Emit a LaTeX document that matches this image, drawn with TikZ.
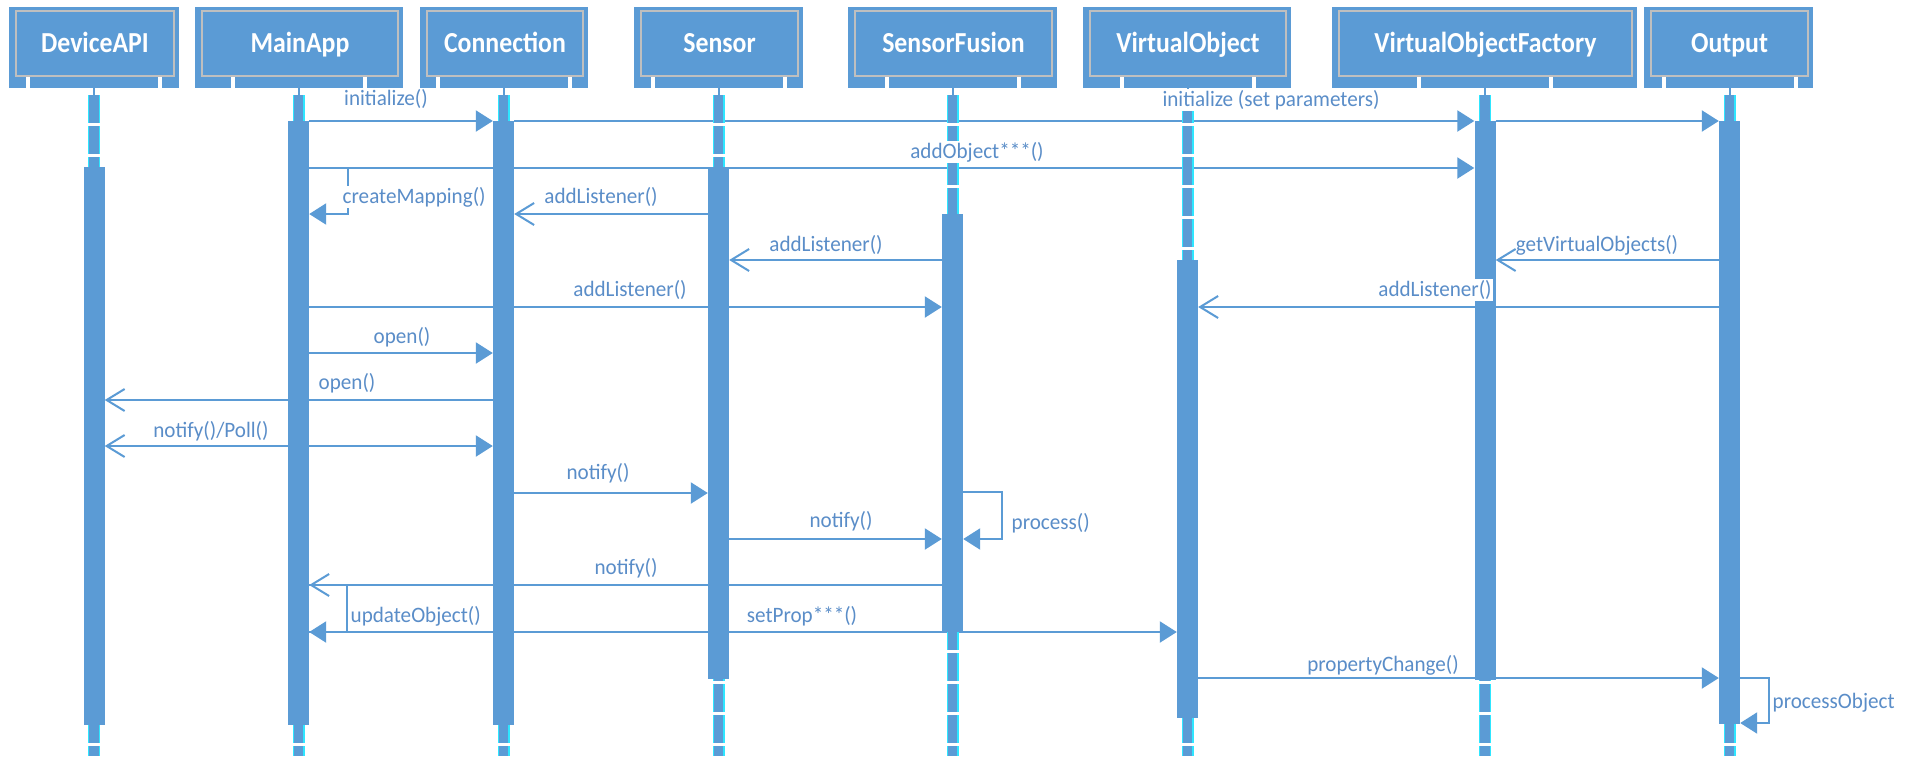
\documentclass[tikz,border=0pt]{standalone}
\usepackage{fontspec}
\setmainfont{Carlito}
\newfontfamily\headfont[FakeStretch=0.89]{Carlito}
\newfontfamily\msgfont[FakeStretch=0.96]{Carlito}
\usetikzlibrary{arrows.meta}
\definecolor{umlblue}{HTML}{5B9BD5}
\definecolor{umltext}{HTML}{5A8DC8}
\definecolor{umledge}{HTML}{BFBFBF}
\definecolor{lifeedge}{HTML}{2EE6FF}
\pgfdeclarelayer{bg}
\pgfdeclarelayer{lines}
\pgfdeclarelayer{lifelines}
\pgfdeclarelayer{front}
\pgfsetlayers{bg,lines,lifelines,main,front}

% header box with its shadow strip and dashed lifeline
% #1 name, #2 left, #3 right, #4 lifeline x, #5 title
\newcommand\umlhead[5]{%
  \fill[umlblue] ({#2-6},7) rectangle ({#3+6},88);
  \fill[white] ({#4-68},76) rectangle ({#4-64},89);
  \fill[white] ({#4+64},76) rectangle ({#4+68},89);
  \node[headbox, minimum width={#3pt-#2pt}, anchor=north west] (#1) at (#2,10) {#5};
  \coordinate (#1-top) at (#4,88);
  \coordinate (#1-end) at (#4,756);
  \begin{pgfonlayer}{lifelines}
    \draw[stub] (#1-top) -- ++(0,8);
    \draw[lifeout] ([yshift=-7pt]#1-top) -- (#1-end);
    \draw[lifein] ([yshift=-7pt]#1-top) -- (#1-end);
  \end{pgfonlayer}
}

\begin{document}
\begin{tikzpicture}[x=1pt, y=-1pt,
  headbox/.style={draw=umledge, fill=umlblue, line width=2pt, minimum height=65pt,
    inner sep=0pt, text=white, font=\headfont\bfseries\fontsize{29}{29}\selectfont,
    text height=18.5pt, text depth=0pt},
  stub/.style={draw=umlblue, line width=2pt},
  lifeout/.style={draw=lifeedge, line width=12pt, dash pattern=on 28pt off 3pt},
  lifein/.style={draw=umlblue, line width=9.5pt, dash pattern=on 28pt off 3pt},
  bar/.style={fill=umlblue, inner sep=0pt, minimum width=21pt, anchor=north},
  msg/.style={draw=umlblue, line width=2.2pt},
  sync/.style={msg, -{Triangle[length=17pt, width=21pt]}},
  reply/.style={msg, -{Straight Barb[length=18pt, width=22pt, line width=2pt]}},
  lbl/.style={text=umltext, font=\msgfont\fontsize{22}{22}\selectfont, inner sep=1.5pt},
  lblw/.style={lbl, fill=white}]

\useasboundingbox (0,0) rectangle (1923,756);
\begin{pgfonlayer}{bg}
  \fill[white] (0,0) rectangle (1923,756);
\end{pgfonlayer}

% participants
\umlhead{dev}{15}{173}{94}{DeviceAPI}
\umlhead{app}{201}{397}{298.5}{MainApp}
\umlhead{conn}{426}{582}{503.5}{Connection}
\umlhead{sens}{640}{797}{718.5}{Sensor}
\umlhead{fus}{854}{1051}{952.5}{SensorFusion}
\umlhead{vo}{1089}{1285}{1187.5}{VirtualObject}
\umlhead{vof}{1338}{1631}{1485}{VirtualObjectFactory}
\umlhead{out}{1650}{1807}{1729.5}{Output}

% activation bars
\node[bar, minimum height=558pt] (bDev)  at (94,167) {};
\node[bar, minimum height=604pt] (bMain) at (298.5,121) {};
\node[bar, minimum height=604pt] (bConn) at (503.5,121) {};
\node[bar, minimum height=512pt] (bSens) at (718.5,167) {};
\node[bar, minimum height=418pt] (bSF)   at (952.5,214) {};
\node[bar, minimum height=458pt] (bVO)   at (1187.5,260) {};
\node[bar, minimum height=559pt] (bVOF)  at (1485,121) {};
\node[bar, minimum height=603pt] (bOut)  at (1729.5,121) {};

% messages
\begin{pgfonlayer}{lines}
  \draw[sync] (bMain.east |- 0,121) -- (bConn.west |- 0,121);
  \draw[sync] (bConn.east |- 0,121) -- (bVOF.west |- 0,121);
  \draw[sync] (bVOF.east |- 0,121) -- (bOut.west |- 0,121);
  \draw[sync] (bMain.east |- 0,168) -- (bVOF.west |- 0,168);
  \draw[sync] (bMain.east |- 0,168) -- (348,168) -- (348,214) -- (bMain.east |- 0,214);
  \draw[reply] (bSens.west |- 0,214) -- (bConn.east |- 0,214);
  \draw[reply] (bSF.west |- 0,260) -- (bSens.east |- 0,260);
  \draw[reply] (bOut.west |- 0,260) -- (bVOF.east |- 0,260);
  \draw[sync] (bMain.east |- 0,307) -- (bSF.west |- 0,307);
  \draw[reply] (bOut.west |- 0,307) -- (bVO.east |- 0,307);
  \draw[sync] (bMain.east |- 0,353) -- (bConn.west |- 0,353);
  \draw[reply] (bConn.west |- 0,400) -- (bDev.east |- 0,400);
  \draw[msg, {Straight Barb[length=18pt, width=22pt, line width=2pt]}-{Triangle[length=17pt, width=21pt]}]
    (bDev.east |- 0,446) -- (bConn.west |- 0,446);
  \draw[sync] (bConn.east |- 0,493) -- (bSens.west |- 0,493);
  \draw[sync] (bSF.east |- 0,492) -- (1002,492) -- (1002,539) -- (bSF.east |- 0,539);
  \draw[sync] (bSens.east |- 0,539) -- (bSF.west |- 0,539);
  \draw[reply] (bSF.west |- 0,585) -- (bMain.east |- 0,585);
  \draw[sync] (bMain.east |- 0,585) -- (347,585) -- (347,632) -- (bMain.east |- 0,632);
  \draw[sync] (bMain.east |- 0,632) -- (bVO.west |- 0,632);
  \draw[sync] (bVO.east |- 0,678) -- (bOut.west |- 0,678);
  \draw[sync] (bOut.east |- 0,678) -- (1769,678) -- (1769,723) -- (bOut.east |- 0,723);
\end{pgfonlayer}

% message labels
\begin{pgfonlayer}{front}
  \node[lblw] (tInit)   at (386,99)  {initialize()};
  \node[lblw] (tInitP)  at (1271,100) {initialize (set parameters)};
  \node[lblw] (tAddObj) at (977,152) {addObject***()};
  \node[lblw, anchor=west] (tMap) at (341,197) {createMapping()};
  \node[lbl]  (tAL1)    at (601,197) {addListener()};
  \node[lbl]  (tAL2)    at (826,245) {addListener()};
  \node[lbl]  (tGet)    at (1597,245) {getVirtualObjects()};
  \node[lbl]  (tAL3)    at (630,290) {addListener()};
  \node[lblw] (tAL4)    at (1435,290) {addListener()};
  \node[lbl]  (tOpen1)  at (402,337) {open()};
  \node[lbl]  (tOpen2)  at (347,383) {open()};
  \node[lbl]  (tPoll)   at (211,431) {notify()/Poll()};
  \node[lbl]  (tNot1)   at (598,473) {notify()};
  \node[lbl, anchor=west] (tProc) at (1010,523) {process()};
  \node[lbl]  (tNot2)   at (841,521) {notify()};
  \node[lbl]  (tNot3)   at (626,568) {notify()};
  \node[lbl, anchor=west] (tUpd) at (349,616) {updateObject()};
  \node[lbl]  (tSet)    at (802,616) {setProp***()};
  \node[lbl]  (tProp)   at (1383,665) {propertyChange()};
  \node[lbl, anchor=west] (tPObj) at (1771,703) {processObject};
\end{pgfonlayer}
\end{tikzpicture}
\end{document}
